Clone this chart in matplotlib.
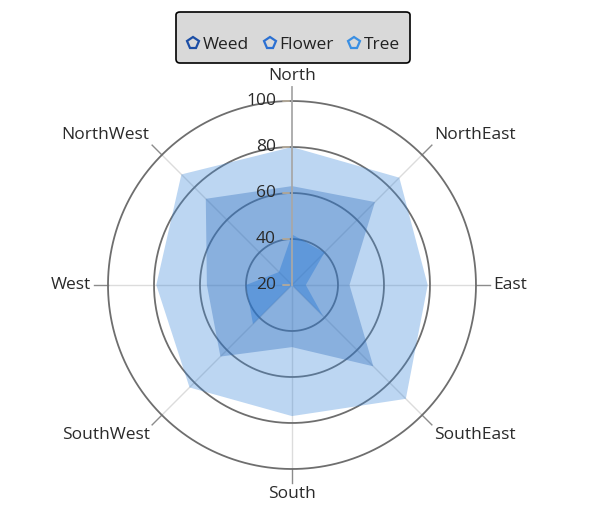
import numpy as np
import matplotlib
matplotlib.use("Agg")
import matplotlib.pyplot as plt
from matplotlib.lines import Line2D

plt.rcParams['font.family'] = ['Open Sans', 'DejaVu Sans']

# data
directions = ['North', 'NorthEast', 'East', 'SouthEast', 'South', 'SouthWest', 'West', 'NorthWest']
weed = [42, 40, 26, 39, 20, 44, 40, 28]
flower = [63, 71, 45, 70, 47, 64, 57, 73]
tree = [80, 86, 79, 90, 77, 83, 79, 88]
series_names = ['Weed', 'Flower', 'Tree']
radial_ticks = [20, 40, 60, 80, 100]

line_cols = {'Weed': '#1c4ea6', 'Flower': '#2b70d2', 'Tree': '#3a8fe3'}
fill_cols = {'Weed': '#2275d4', 'Flower': '#2a69b9', 'Tree': '#408ada'}
text_col = '#2a2a2a'

fig = plt.figure(figsize=(6, 5.18), dpi=100)
ax = fig.add_axes([0.18, 0.0946, 0.6133, 0.7104], projection='polar')
ax.set_theta_zero_location('N')
ax.set_theta_direction(-1)
ax.set_ylim(20, 100)
ax.grid(False)
ax.set_xticks([])
ax.set_yticks([])
ax.spines['polar'].set_visible(False)
ax.patch.set_alpha(0)

angles = np.deg2rad(np.arange(len(directions)) * 45.0)

# spokes
for a in angles[1:]:
    ax.plot([a, a], [20, 100], color='#dcdcdc', lw=1.0, zorder=1)
    ax.plot([a, a], [100, 106], color='#8c8c8c', lw=1.0, zorder=1, clip_on=False)

# rings (under the fills, so they pick up the blue tint)
ring_t = np.linspace(0, 2 * np.pi, 400)
for v in radial_ticks[1:]:
    ax.plot(ring_t, np.full_like(ring_t, v), color='#6e6e6e', lw=1.3, zorder=1.5, clip_on=False)

# filled areas
data = {'Weed': weed, 'Flower': flower, 'Tree': tree}
alphas = {'Weed': 0.4, 'Flower': 0.35, 'Tree': 0.35}
for name in ['Tree', 'Flower', 'Weed']:
    vals = data[name]
    ax.fill(np.append(angles, angles[0]), vals + vals[:1], color=fill_cols[name],
            alpha=alphas[name], lw=0, zorder=2)

# radial axis on north spoke
ax.plot([0, 0], [20, 106], color='#a8a8a8', lw=1.3, zorder=4, clip_on=False)
for v in radial_ticks:
    ax.annotate('', xy=(0, v), xytext=(-8.5, 0), textcoords='offset points',
                arrowprops=dict(arrowstyle='-', color='#b4aa9a', lw=1.3), zorder=4,
                annotation_clip=False)
    ax.annotate(str(v), xy=(0, v), xytext=(-11.5, 0), textcoords='offset points',
                ha='right', va='center', fontsize=12.5, color=text_col, zorder=5,
                annotation_clip=False)

# category labels
align = [('center', 'bottom'), ('left', 'bottom'), ('left', 'center'), ('left', 'top'),
         ('center', 'top'), ('right', 'top'), ('right', 'center'), ('right', 'bottom')]
for a, lab, (ha, va) in zip(angles, directions, align):
    ax.text(a, 107.5, lab, ha=ha, va=va, fontsize=12.5, color=text_col, clip_on=False)

handles = [Line2D([], [], ls='none', marker='p', markersize=8.5, markerfacecolor='none',
                  markeredgecolor=line_cols[n], markeredgewidth=1.6) for n in series_names]
leg = fig.legend(handles, series_names, loc='upper center', bbox_to_anchor=(293 / 600, 1 - 3 / 518),
                 ncol=3, frameon=True, fancybox=True, facecolor='#d9d9d9', edgecolor='black',
                 framealpha=1, handlelength=0.8, handletextpad=0.15, columnspacing=0.8,
                 borderpad=0.55, borderaxespad=0.5, fontsize=12.5,
                 title=' ', title_fontsize=5)
leg.get_frame().set_linewidth(1.2)
for t in leg.get_texts():
    t.set_color('#222222')

fig.savefig('out.png', dpi=100)
